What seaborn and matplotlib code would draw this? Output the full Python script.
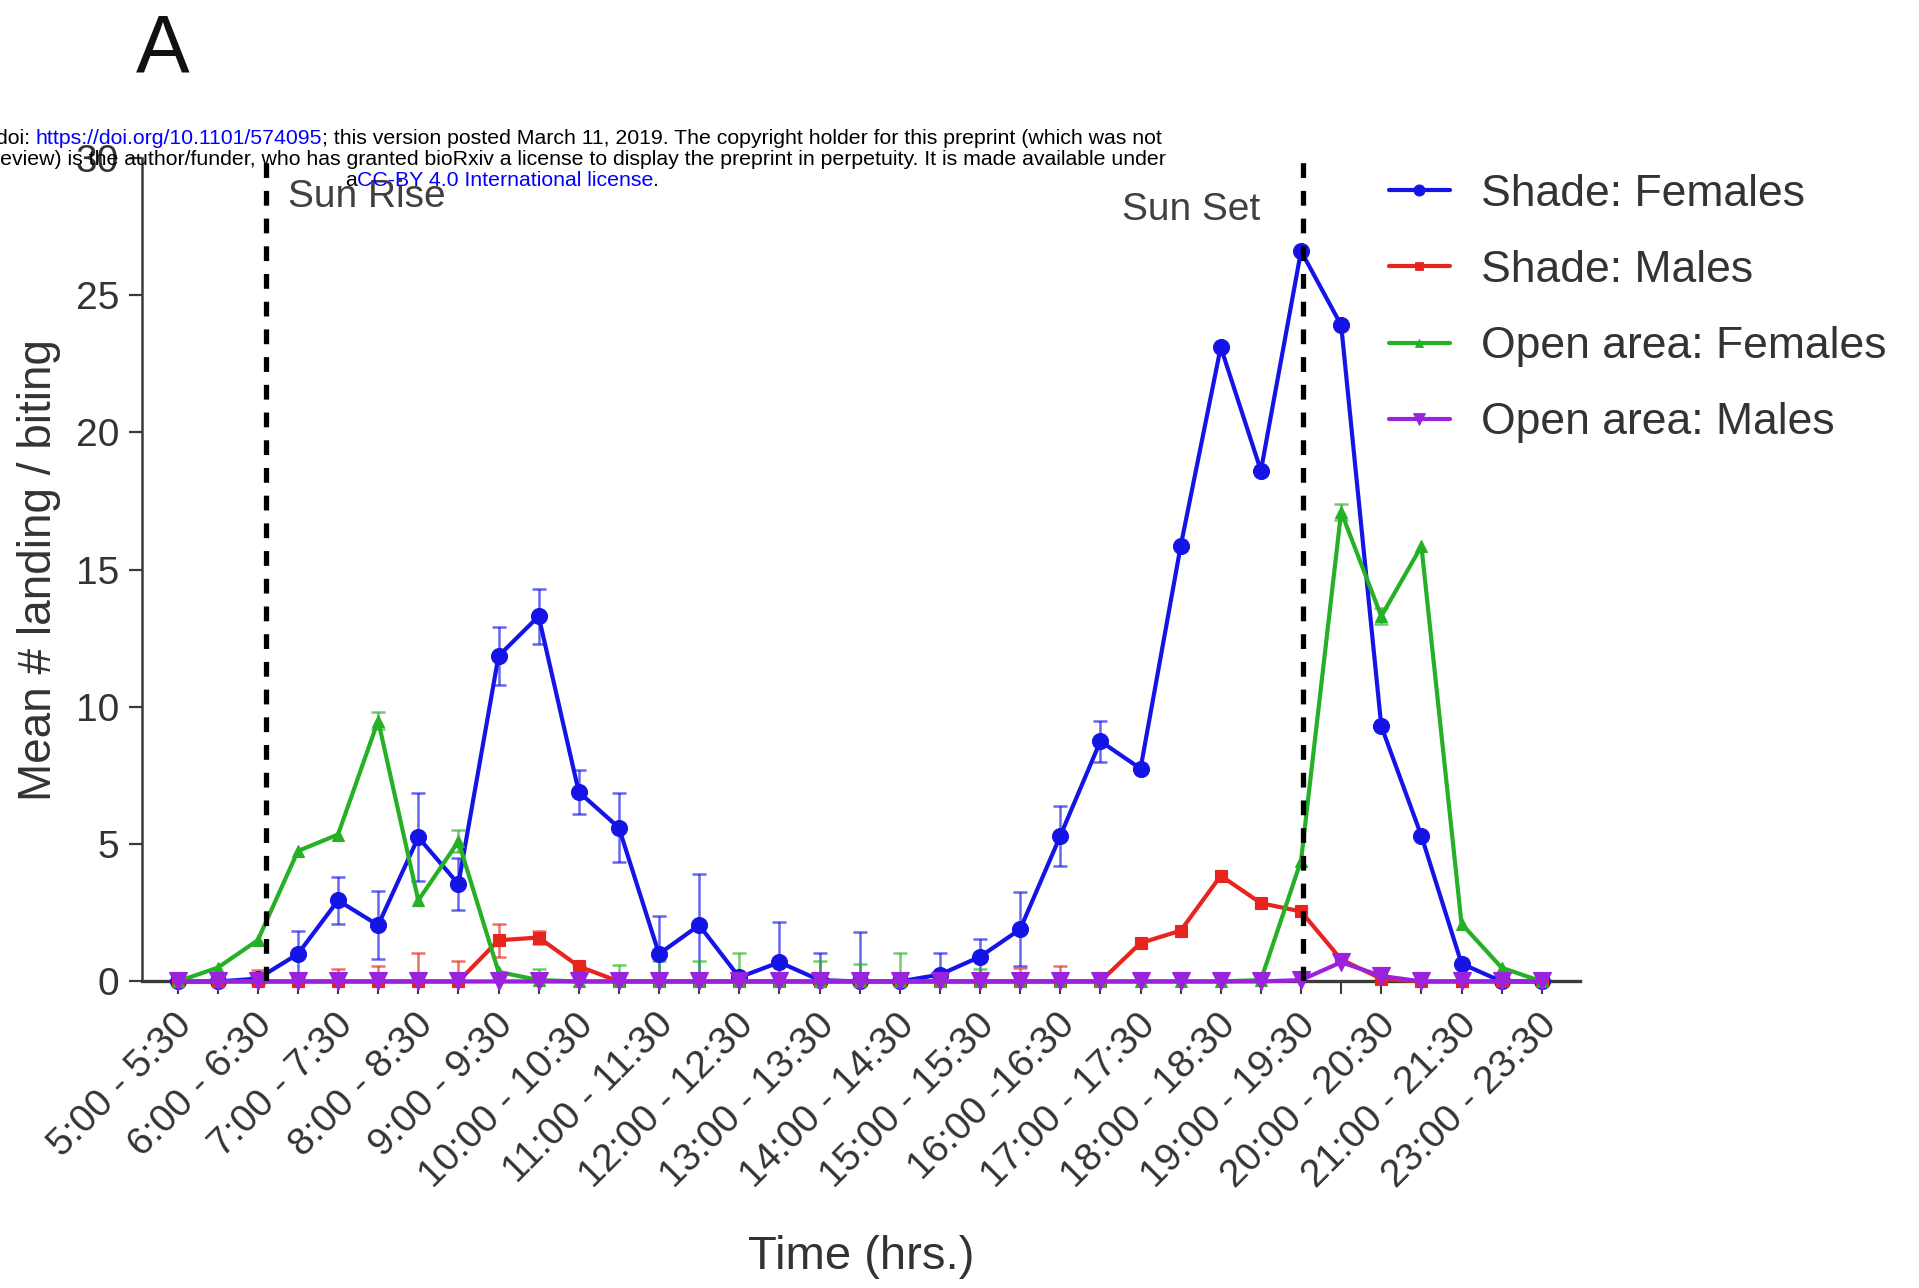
import matplotlib
matplotlib.use("Agg")
import matplotlib.pyplot as plt
from matplotlib.lines import Line2D
from matplotlib.transforms import ScaledTranslation
import numpy as np
import pandas as pd
import seaborn as sns

# ---- data: mean landing/biting per half-hour slot (35 slots) ----
hour_labels = ["5:00 - 5:30", "6:00 - 6:30", "7:00 - 7:30", "8:00 - 8:30",
               "9:00 - 9:30", "10:00 - 10:30", "11:00 - 11:30", "12:00 - 12:30",
               "13:00 - 13:30", "14:00 - 14:30", "15:00 - 15:30", "16:00 -16:30",
               "17:00 - 17:30", "18:00 - 18:30", "19:00 - 19:30", "20:00 - 20:30",
               "21:00 - 21:30", "23:00 - 23:30"]

shade_females = [0.0, 0.0, 0.1, 1.0, 2.95, 2.05, 5.25, 3.55, 11.85, 13.3, 6.9, 5.6,
                 1.0, 2.05, 0.15, 0.7, 0.05, 0.0, 0.0, 0.25, 0.9, 1.9, 5.3, 8.75,
                 7.75, 15.85, 23.1, 18.6, 26.6, 23.9, 9.3, 5.3, 0.65, 0.0, 0.0]
shade_females_se = [0, 0, 0, 0.85, 0.85, 1.25, 1.6, 0.95, 1.05, 1.0, 0.8, 1.25,
                    1.4, 1.85, 0, 1.45, 1.0, 1.8, 0, 0.8, 0.65, 1.35, 1.1, 0.75,
                    0, 0, 0, 0, 0, 0, 0, 0, 0, 0, 0]

shade_males = [0, 0, 0, 0, 0, 0, 0, 0, 1.5, 1.6, 0.55, 0, 0, 0, 0, 0, 0, 0, 0, 0,
               0, 0, 0, 0, 1.4, 1.85, 3.85, 2.85, 2.55, 0.8, 0.1, 0, 0, 0, 0]
shade_males_se = [0, 0, 0.4, 0, 0.45, 0.55, 1.05, 0.75, 0.6, 0.25, 0, 0, 0, 0, 0,
                  0, 0, 0, 0, 0, 0, 0.5, 0.55, 0, 0, 0, 0, 0, 0, 0, 0, 0, 0, 0, 0]

open_females = [0, 0.5, 1.5, 4.75, 5.35, 9.5, 2.95, 5.1, 0.35, 0.05, 0, 0, 0, 0, 0,
                0, 0, 0, 0, 0, 0, 0, 0, 0, 0, 0, 0, 0.05, 4.4, 17.1, 13.3, 15.85,
                2.1, 0.5, 0]
open_females_se = [0, 0, 0, 0, 0, 0.3, 0, 0.4, 0, 0.4, 0.6, 0.6, 0.75, 0.75, 1.05,
                   0.75, 0.75, 0.65, 1.05, 0, 0.45, 0, 0, 0, 0, 0, 0, 0, 0, 0.3,
                   0.3, 0, 0, 0, 0]

open_males = [0, 0, 0, 0, 0, 0, 0, 0, 0, 0, 0, 0, 0, 0, 0, 0, 0, 0, 0, 0, 0, 0, 0,
              0, 0, 0, 0, 0, 0.05, 0.7, 0.2, 0, 0, 0, 0]
open_males_se = [0, 0, 0, 0, 0, 0, 0, 0, 0, 0, 0, 0, 0, 0, 0, 0, 0, 0, 0, 0, 0, 0,
                 0, 0, 0, 0, 0, 0, 0, 0, 0, 0, 0, 0, 0]

series_names = ["Shade: Females", "Shade: Males", "Open area: Females", "Open area: Males"]
series_colors = ["#1414e6", "#e8241e", "#25b025", "#9b22dc"]
series_markers = ["o", "s", "^", "v"]
series_msize = [11.5, 9, 8, 13]

sunrise_slot = 2.2
sunset_slot = 28.05

slots = np.arange(len(shade_females))
means = [shade_females, shade_males, open_females, open_males]
errors = [shade_females_se, shade_males_se, open_females_se, open_males_se]

df = pd.DataFrame({
    "slot": np.tile(slots, 4),
    "series": np.repeat(series_names, len(slots)),
    "mean": np.concatenate(means),
    "se": np.concatenate(errors),
})

# ---- style ----
sns.set_style("ticks")
plt.rcParams["font.family"] = ["Liberation Sans", "DejaVu Sans"]
text_col = "#333333"
spine_col = "#3a3a3a"

fig = plt.figure(figsize=(19.19, 12.88), dpi=100)
ax = fig.add_axes([0.0740, 0.2380, 0.7494, 0.6396])

# error bars (drawn under the lines)
for name, color in zip(series_names, series_colors):
    sub = df[df["series"] == name]
    sub = sub[sub["se"] > 0]
    if len(sub) == 0:
        continue
    lower = np.minimum(sub["se"].values, sub["mean"].values)
    ax.errorbar(sub["slot"], sub["mean"], yerr=[lower, sub["se"].values],
                fmt="none", ecolor=color, alpha=0.65, elinewidth=1.8,
                capsize=5, capthick=1.8, zorder=2, clip_on=False)

# mean lines with markers
for k, (name, color, mk, ms) in enumerate(zip(series_names, series_colors,
                                               series_markers, series_msize)):
    sub = df[df["series"] == name]
    sns.lineplot(data=sub, x="slot", y="mean", ax=ax, color=color, marker=mk,
                 markersize=ms, markeredgewidth=0.8, markeredgecolor=color,
                 linewidth=3.0, errorbar=None, clip_on=False, zorder=3 + k)

# sunrise / sunset markers
for xs in (sunrise_slot, sunset_slot):
    ax.axvline(xs, ymin=0, ymax=1, color="black", linewidth=3.8,
               dashes=(2.8, 2.45), zorder=9)
ax.text(2.76, 28.55, "Sun Rise", fontsize=28, color="#404040",
        ha="left", va="center", zorder=10)
ax.text(23.55, 28.1, "Sun Set", fontsize=28, color="#404040",
        ha="left", va="center", zorder=10)

# axes
ax.set_xlim(-0.885, 34.955)
ax.set_ylim(0, 30)
sns.despine(ax=ax)
for side in ("left", "bottom"):
    ax.spines[side].set_color(spine_col)
ax.spines["left"].set_linewidth(1.8)
ax.spines["bottom"].set_linewidth(2.4)

tick_text = []
for i in slots:
    tick_text.append(hour_labels[i // 2] if i % 2 == 0 else "")
ax.set_xticks(slots)
ax.set_xticklabels(tick_text)
ax.set_yticks(np.arange(0, 31, 5))

ax.tick_params(axis="x", length=9.4, width=1.5, color=spine_col, pad=18,
               labelsize=28, labelcolor=text_col)
ax.tick_params(axis="y", length=9.4, width=1.6, color=spine_col, pad=7,
               labelsize=28, labelcolor=text_col)
shift = ScaledTranslation(0.09, 0, fig.dpi_scale_trans)
for lab in ax.get_xticklabels():
    lab.set_rotation(45)
    lab.set_ha("right")
    lab.set_va("center")
    lab.set_rotation_mode("anchor")
    lab.set_transform(lab.get_transform() + shift)

ax.set_xlabel("Time (hrs.)", fontsize=34, color=text_col)
ax.set_ylabel("Mean # landing / biting", fontsize=33, color=text_col)
ax.xaxis.set_label_coords(0.5, -0.308)
ax.yaxis.set_label_coords(-0.056, 0.5)

# legend
handles = [Line2D([0], [0], color=c, lw=3.0, marker=m, markersize=s * 0.7,
                  markeredgewidth=0.6, markeredgecolor=c)
           for c, m, s in zip(series_colors, series_markers, series_msize)]
leg = fig.legend(handles, series_names, loc="upper left",
                 bbox_to_anchor=(0.7238, 0.865), frameon=False, fontsize=32,
                 handlelength=1.37, handletextpad=0.7, labelspacing=0.79,
                 borderpad=0, borderaxespad=0)
for t in leg.get_texts():
    t.set_color(text_col)

# panel letter
fig.text(163 / 1919, 1 - 51 / 1288, "A", fontsize=58, color="#111111",
         ha="center", va="center")

# preprint notice along the top (pixel coordinates overlay)
ov = fig.add_axes([0, 0, 1, 1], zorder=20)
ov.set_xlim(0, 1919)
ov.set_ylim(1288, 0)
ov.axis("off")
ov.patch.set_alpha(0)

fs_note = 15.35
blue = "#0000ff"


def chain(parts, x0, y_bottom):
    prev = ov.text(x0, y_bottom, parts[0][0], color=parts[0][1], fontsize=fs_note,
                   ha="left", va="bottom")
    for s, c in parts[1:]:
        prev = ov.annotate(s, xy=(1, 0), xycoords=prev, color=c, fontsize=fs_note,
                           ha="left", va="bottom")
    return prev


chain([("doi: ", "black"), ("https://doi.org/10.1101/574095", blue),
       ("; this version posted March 11, 2019. The copyright holder for this "
        "preprint (which was not", "black")], -4, 147.5)
chain([("review) is the author/funder, who has granted bioRxiv a license to "
        "display the preprint in perpetuity. It is made available under", "black")],
      -7, 169)
chain([("a", "black"), ("CC-BY 4.0 International license", blue), (".", "black")],
      345, 190)

fig.savefig("out.png", dpi=100)
